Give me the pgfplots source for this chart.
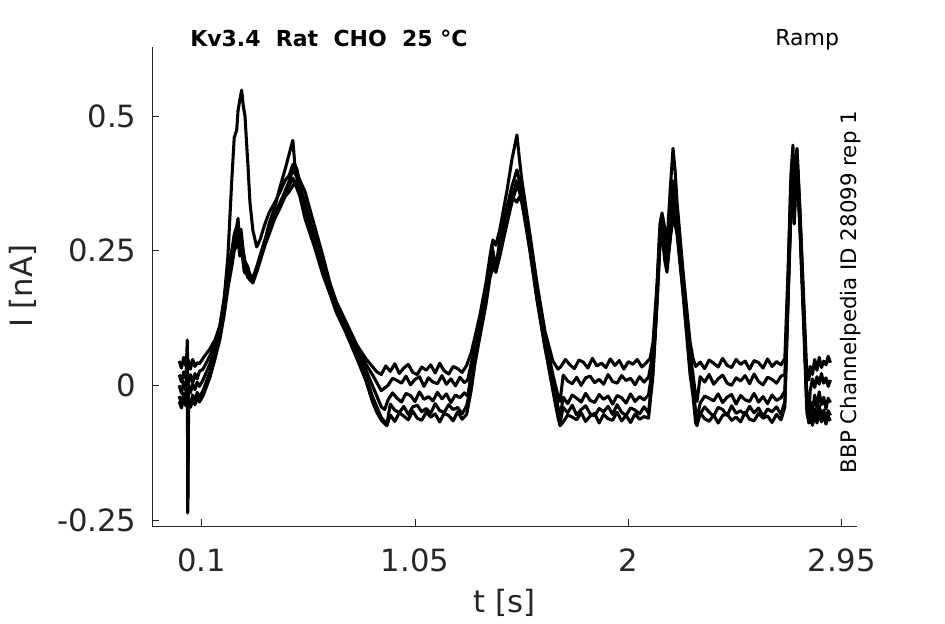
\documentclass[border=0pt]{standalone}
\usepackage{fontspec}
\setmainfont{DejaVu Sans}
\usepackage{pgfplots}
\pgfplotsset{compat=1.18}
\definecolor{axgray}{RGB}{38,38,38}
\begin{document}
\begin{tikzpicture}[x=0.75pt,y=0.75pt]
\path[use as bounding box] (-152.3,-98) rectangle (792.7,526);
\begin{axis}[
  at={(0,0)}, anchor=south west,
  scale only axis, width=528.3pt, height=359.5pt,
  xmin=-0.1198, xmax=3.017, ymin=-0.2612, ymax=0.6288,
  clip=false,
  axis x line*=bottom, axis y line*=left,
  axis line style={axgray, line width=0.6pt},
  xtick={0.1,1.05,2,2.95}, xticklabels={0.1,1.05,2,2.95},
  ytick={-0.25,0,0.25,0.5}, yticklabels={-0.25,0,0.25,0.5},
  tick align=inside, major tick length=5.25pt,
  tick style={axgray, line width=0.6pt},
  every tick label/.append style={font=\fontsize{23}{27}\selectfont, text=axgray},
  xticklabel style={anchor=north, inner sep=0pt, yshift=-16.5pt},
  yticklabel style={anchor=east, inner sep=0pt, xshift=-11.7pt},
  xlabel={t [s]}, ylabel={I [nA]},
  every axis label/.append style={font=\fontsize{23}{27}\selectfont, text=axgray},
  xlabel style={at={(axis description cs:0.5,-0.1608)}, anchor=center, inner sep=0pt},
  ylabel style={at={(axis description cs:-0.1843,0.5)}, anchor=center, inner sep=0pt},
  trace/.style={black, line width=2.3pt, line join=round},
]
% trace 1
\addplot[trace] coordinates {
(0.000,0.045)(0.010,0.032)(0.020,0.052)(0.030,0.036)(0.040,0.047)(0.050,0.030)(0.060,0.048)(0.070,0.035)(0.080,0.042)(0.090,0.040)(0.106,0.050)(0.137,0.068)(0.160,0.085)(0.181,0.110)(0.200,0.160)(0.217,0.240)(0.234,0.380)(0.245,0.460)(0.256,0.474)(0.262,0.510)(0.270,0.530)(0.278,0.548)(0.285,0.520)(0.293,0.500)(0.300,0.450)(0.306,0.410)(0.315,0.340)(0.328,0.288)(0.345,0.257)(0.360,0.270)(0.382,0.300)(0.400,0.320)(0.426,0.340)(0.450,0.360)(0.471,0.380)(0.490,0.390)(0.506,0.410)(0.520,0.400)(0.538,0.380)(0.560,0.360)(0.600,0.300)(0.640,0.240)(0.671,0.190)(0.700,0.155)(0.740,0.120)(0.791,0.075)(0.830,0.050)(0.860,0.035)(0.880,0.025)(0.900,0.020)
(0.92,0.036)(0.94,0.026)(0.96,0.040)(0.98,0.022)(1.00,0.032)(1.02,0.039)(1.04,0.024)(1.06,0.020)(1.08,0.034)(1.10,0.028)(1.12,0.038)(1.14,0.023)(1.16,0.041)(1.18,0.027)(1.20,0.021)(1.22,0.035)(1.24,0.031)(1.26,0.024)(1.28,0.037)
(1.300,0.060)(1.317,0.090)(1.339,0.130)(1.366,0.190)(1.384,0.240)(1.397,0.270)(1.410,0.260)(1.428,0.290)(1.459,0.360)(1.482,0.420)(1.504,0.465)(1.515,0.420)(1.526,0.380)(1.562,0.280)(1.593,0.190)(1.629,0.100)(1.664,0.045)(1.687,0.030)
(1.70,0.035)(1.72,0.048)(1.74,0.038)(1.76,0.031)(1.78,0.047)(1.80,0.043)(1.82,0.032)(1.84,0.050)(1.86,0.036)(1.88,0.041)(1.90,0.033)(1.92,0.049)(1.94,0.037)(1.96,0.046)(1.98,0.030)(2.00,0.044)(2.02,0.039)(2.04,0.048)(2.06,0.034)(2.08,0.042)(2.097,0.050)
(2.110,0.080)(2.128,0.190)(2.141,0.300)(2.150,0.320)(2.163,0.290)(2.172,0.260)(2.186,0.360)(2.199,0.440)(2.208,0.400)(2.217,0.340)(2.244,0.210)(2.275,0.080)(2.288,0.050)(2.300,0.035)
(2.32,0.043)(2.34,0.031)(2.36,0.047)(2.38,0.041)(2.40,0.034)(2.42,0.050)(2.44,0.037)(2.46,0.033)(2.48,0.048)(2.50,0.039)(2.52,0.045)(2.54,0.030)(2.56,0.046)(2.58,0.042)(2.60,0.032)(2.62,0.049)(2.64,0.035)(2.66,0.044)(2.68,0.038)(2.697,0.050)
(2.711,0.210)(2.724,0.390)(2.733,0.446)(2.739,0.300)(2.745,0.400)(2.751,0.437)(2.764,0.330)(2.782,0.150)(2.795,0.020)(2.804,0.010)
(2.81,0.035)(2.82,0.020)(2.83,0.048)(2.84,0.028)(2.85,0.052)(2.86,0.033)(2.87,0.045)(2.88,0.038)(2.89,0.054)(2.90,0.042)
};
% trace 2
\addplot[trace] coordinates {
(0.000,0.020)(0.010,0.006)(0.020,0.025)(0.030,0.012)(0.036,0.084)(0.038,-0.237)(0.041,0.005)(0.050,0.020)(0.060,0.004)(0.070,0.022)(0.080,0.012)(0.090,0.026)(0.106,0.030)(0.137,0.055)(0.160,0.080)(0.181,0.110)(0.200,0.160)(0.217,0.210)(0.234,0.250)(0.245,0.280)(0.256,0.295)(0.262,0.310)(0.268,0.270)(0.275,0.290)(0.285,0.250)(0.293,0.230)(0.306,0.220)(0.318,0.200)(0.328,0.195)(0.340,0.210)(0.360,0.240)(0.382,0.270)(0.400,0.300)(0.426,0.330)(0.450,0.370)(0.471,0.400)(0.490,0.430)(0.506,0.455)(0.515,0.410)(0.525,0.400)(0.538,0.370)(0.560,0.340)(0.600,0.280)(0.640,0.225)(0.671,0.185)(0.700,0.150)(0.740,0.115)(0.791,0.070)(0.830,0.040)(0.860,0.020)(0.880,0.005)(0.900,-0.010)(0.915,-0.005)
(0.93,0.000)(0.95,0.013)(0.97,0.009)(0.99,0.004)(1.01,0.017)(1.03,0.001)(1.05,0.011)(1.07,0.016)(1.09,-0.002)(1.11,0.014)(1.13,0.006)(1.15,0.003)(1.17,0.018)(1.19,0.002)(1.21,0.012)(1.23,-0.001)(1.25,0.015)(1.27,0.005)(1.285,0.010)
(1.300,0.040)(1.317,0.070)(1.339,0.120)(1.366,0.180)(1.384,0.230)(1.392,0.260)(1.400,0.240)(1.410,0.220)(1.428,0.270)(1.459,0.330)(1.482,0.370)(1.504,0.400)(1.515,0.380)(1.526,0.360)(1.562,0.270)(1.593,0.180)(1.629,0.090)(1.664,0.020)(1.687,-0.020)(1.696,-0.030)
(1.71,0.019)(1.73,0.008)(1.75,0.003)(1.77,0.015)(1.79,0.000)(1.81,0.014)(1.83,0.017)(1.85,0.005)(1.87,0.011)(1.89,0.002)(1.91,0.020)(1.93,0.007)(1.95,0.004)(1.97,0.018)(1.99,0.009)(2.01,0.013)(2.03,0.001)(2.05,0.016)(2.07,0.006)(2.09,0.015)
(2.110,0.060)(2.128,0.180)(2.141,0.290)(2.150,0.310)(2.163,0.260)(2.172,0.230)(2.186,0.300)(2.199,0.380)(2.208,0.360)(2.217,0.320)(2.244,0.200)(2.275,0.060)(2.288,0.020)(2.300,-0.020)(2.306,-0.030)
(2.32,0.016)(2.34,0.006)(2.36,0.020)(2.38,0.002)(2.40,0.012)(2.42,0.019)(2.44,0.004)(2.46,0.000)(2.48,0.014)(2.50,0.008)(2.52,0.018)(2.54,0.003)(2.56,0.021)(2.58,0.007)(2.60,0.001)(2.62,0.015)(2.64,0.011)(2.66,0.004)(2.68,0.017)(2.697,0.020)
(2.711,0.190)(2.724,0.370)(2.733,0.430)(2.739,0.320)(2.745,0.390)(2.751,0.420)(2.764,0.310)(2.782,0.130)(2.795,-0.020)(2.804,-0.050)
(2.81,-0.010)(2.82,0.012)(2.83,-0.004)(2.84,0.016)(2.85,0.002)(2.86,0.022)(2.87,0.004)(2.88,0.014)(2.89,-0.002)(2.90,0.010)
};
% trace 3
\addplot[trace] coordinates {
(0.000,0.000)(0.010,-0.015)(0.020,0.007)(0.030,-0.010)(0.040,0.004)(0.050,-0.014)(0.060,0.002)(0.070,-0.008)(0.080,0.006)(0.090,-0.002)(0.106,0.010)(0.137,0.040)(0.160,0.070)(0.181,0.100)(0.200,0.150)(0.217,0.200)(0.234,0.240)(0.245,0.270)(0.256,0.280)(0.262,0.290)(0.270,0.260)(0.278,0.270)(0.290,0.230)(0.306,0.210)(0.328,0.200)(0.345,0.220)(0.360,0.240)(0.382,0.270)(0.400,0.290)(0.426,0.320)(0.450,0.340)(0.471,0.360)(0.490,0.380)(0.506,0.400)(0.520,0.390)(0.538,0.370)(0.560,0.330)(0.600,0.270)(0.640,0.215)(0.671,0.180)(0.700,0.145)(0.740,0.110)(0.791,0.060)(0.830,0.030)(0.860,0.000)(0.880,-0.020)(0.900,-0.040)(0.915,-0.045)
(0.93,-0.027)(0.95,-0.014)(0.97,-0.024)(0.99,-0.031)(1.01,-0.015)(1.03,-0.019)(1.05,-0.030)(1.07,-0.012)(1.09,-0.026)(1.11,-0.021)(1.13,-0.029)(1.15,-0.013)(1.17,-0.025)(1.19,-0.016)(1.21,-0.032)(1.23,-0.018)(1.25,-0.023)(1.27,-0.014)(1.285,-0.020)
(1.300,0.020)(1.317,0.060)(1.339,0.110)(1.366,0.170)(1.384,0.220)(1.397,0.250)(1.410,0.210)(1.428,0.260)(1.459,0.310)(1.482,0.350)(1.504,0.340)(1.515,0.350)(1.526,0.340)(1.562,0.260)(1.593,0.170)(1.629,0.080)(1.664,0.010)(1.687,-0.040)(1.696,-0.060)
(1.71,-0.022)(1.73,-0.034)(1.75,-0.018)(1.77,-0.024)(1.79,-0.031)(1.81,-0.015)(1.83,-0.028)(1.85,-0.032)(1.87,-0.017)(1.89,-0.026)(1.91,-0.020)(1.93,-0.035)(1.95,-0.019)(1.97,-0.023)(1.99,-0.033)(2.01,-0.016)(2.03,-0.030)(2.05,-0.021)(2.07,-0.027)(2.09,-0.018)
(2.110,0.040)(2.128,0.170)(2.141,0.280)(2.150,0.300)(2.163,0.250)(2.172,0.220)(2.186,0.280)(2.199,0.330)(2.208,0.310)(2.217,0.290)(2.244,0.180)(2.275,0.040)(2.288,0.000)(2.300,-0.050)(2.306,-0.060)
(2.32,-0.033)(2.34,-0.020)(2.36,-0.024)(2.38,-0.029)(2.40,-0.016)(2.42,-0.032)(2.44,-0.022)(2.46,-0.017)(2.48,-0.035)(2.50,-0.019)(2.52,-0.027)(2.54,-0.030)(2.56,-0.015)(2.58,-0.031)(2.60,-0.021)(2.62,-0.034)(2.64,-0.018)(2.66,-0.028)(2.68,-0.023)(2.697,-0.010)
(2.711,0.170)(2.724,0.340)(2.733,0.420)(2.739,0.360)(2.745,0.410)(2.751,0.440)(2.764,0.320)(2.782,0.120)(2.795,-0.030)(2.804,-0.060)
(2.81,-0.030)(2.82,-0.048)(2.83,-0.018)(2.84,-0.042)(2.85,-0.012)(2.86,-0.036)(2.87,-0.022)(2.88,-0.044)(2.89,-0.024)(2.90,-0.032)
};
% trace 4
\addplot[trace] coordinates {
(0.000,-0.020)(0.010,-0.034)(0.020,-0.015)(0.030,-0.030)(0.037,0.060)(0.039,-0.210)(0.042,-0.025)(0.050,-0.036)(0.060,-0.018)(0.070,-0.031)(0.080,-0.013)(0.090,-0.022)(0.106,-0.010)(0.137,0.025)(0.160,0.060)(0.181,0.090)(0.200,0.140)(0.217,0.190)(0.234,0.230)(0.245,0.260)(0.256,0.270)(0.262,0.280)(0.270,0.250)(0.278,0.260)(0.290,0.220)(0.306,0.200)(0.328,0.190)(0.345,0.210)(0.360,0.230)(0.382,0.260)(0.400,0.280)(0.426,0.310)(0.450,0.330)(0.471,0.350)(0.490,0.360)(0.506,0.370)(0.520,0.380)(0.538,0.360)(0.560,0.320)(0.600,0.265)(0.640,0.210)(0.671,0.175)(0.700,0.140)(0.740,0.105)(0.791,0.055)(0.830,0.020)(0.860,-0.020)(0.880,-0.040)(0.900,-0.060)(0.925,-0.072)
(0.94,-0.035)(0.96,-0.046)(0.98,-0.051)(1.00,-0.039)(1.02,-0.054)(1.04,-0.040)(1.06,-0.037)(1.08,-0.049)(1.10,-0.043)(1.12,-0.052)(1.14,-0.034)(1.16,-0.047)(1.18,-0.050)(1.20,-0.036)(1.22,-0.045)(1.24,-0.041)(1.26,-0.053)(1.28,-0.038)
(1.300,0.000)(1.317,0.050)(1.339,0.100)(1.366,0.160)(1.384,0.210)(1.397,0.230)(1.410,0.220)(1.428,0.250)(1.459,0.300)(1.482,0.340)(1.504,0.370)(1.515,0.360)(1.526,0.340)(1.562,0.250)(1.593,0.160)(1.629,0.070)(1.664,0.000)(1.687,-0.050)(1.696,-0.070)
(1.71,-0.041)(1.73,-0.051)(1.75,-0.037)(1.77,-0.055)(1.79,-0.045)(1.81,-0.038)(1.83,-0.053)(1.85,-0.057)(1.87,-0.043)(1.89,-0.049)(1.91,-0.039)(1.93,-0.054)(1.95,-0.036)(1.97,-0.050)(1.99,-0.056)(2.01,-0.042)(2.03,-0.046)(2.05,-0.053)(2.07,-0.040)(2.09,-0.051)
(2.110,0.030)(2.128,0.160)(2.141,0.270)(2.150,0.290)(2.163,0.240)(2.172,0.220)(2.186,0.270)(2.199,0.310)(2.208,0.300)(2.217,0.280)(2.244,0.170)(2.275,0.030)(2.288,-0.010)(2.300,-0.060)(2.306,-0.070)
(2.32,-0.053)(2.34,-0.040)(2.36,-0.050)(2.38,-0.057)(2.40,-0.041)(2.42,-0.045)(2.44,-0.056)(2.46,-0.038)(2.48,-0.052)(2.50,-0.047)(2.52,-0.055)(2.54,-0.039)(2.56,-0.051)(2.58,-0.042)(2.60,-0.058)(2.62,-0.044)(2.64,-0.049)(2.66,-0.040)(2.68,-0.054)(2.697,-0.030)
(2.711,0.160)(2.724,0.330)(2.733,0.400)(2.739,0.300)(2.745,0.380)(2.751,0.410)(2.764,0.300)(2.782,0.110)(2.795,-0.040)(2.804,-0.065)
(2.81,-0.050)(2.82,-0.066)(2.83,-0.044)(2.84,-0.060)(2.85,-0.038)(2.86,-0.058)(2.87,-0.046)(2.88,-0.064)(2.89,-0.047)(2.90,-0.056)
};
% trace 5
\addplot[trace] coordinates {
(0.000,-0.030)(0.010,-0.042)(0.020,-0.025)(0.030,-0.038)(0.040,-0.028)(0.050,-0.041)(0.060,-0.027)(0.070,-0.036)(0.080,-0.024)(0.090,-0.031)(0.106,-0.020)(0.137,0.015)(0.160,0.050)(0.181,0.085)(0.200,0.130)(0.217,0.180)(0.234,0.220)(0.245,0.250)(0.256,0.260)(0.262,0.270)(0.270,0.240)(0.278,0.250)(0.290,0.210)(0.306,0.205)(0.328,0.200)(0.345,0.215)(0.360,0.235)(0.382,0.265)(0.400,0.285)(0.426,0.315)(0.450,0.335)(0.471,0.355)(0.490,0.370)(0.506,0.385)(0.520,0.370)(0.538,0.350)(0.560,0.310)(0.600,0.260)(0.640,0.205)(0.671,0.170)(0.700,0.135)(0.740,0.100)(0.791,0.050)(0.830,0.010)(0.860,-0.030)(0.880,-0.050)(0.900,-0.065)(0.925,-0.075)
(0.94,-0.055)(0.96,-0.067)(0.98,-0.051)(1.00,-0.057)(1.02,-0.064)(1.04,-0.048)(1.06,-0.061)(1.08,-0.065)(1.10,-0.050)(1.12,-0.059)(1.14,-0.053)(1.16,-0.068)(1.18,-0.052)(1.20,-0.056)(1.22,-0.066)(1.24,-0.049)(1.26,-0.063)(1.28,-0.054)
(1.300,-0.010)(1.317,0.040)(1.339,0.090)(1.366,0.150)(1.384,0.200)(1.397,0.220)(1.410,0.210)(1.428,0.240)(1.459,0.300)(1.482,0.350)(1.504,0.380)(1.515,0.370)(1.526,0.350)(1.562,0.250)(1.593,0.160)(1.629,0.070)(1.664,-0.010)(1.687,-0.060)(1.696,-0.075)
(1.71,-0.068)(1.73,-0.055)(1.75,-0.059)(1.77,-0.064)(1.79,-0.051)(1.81,-0.067)(1.83,-0.057)(1.85,-0.052)(1.87,-0.070)(1.89,-0.054)(1.91,-0.062)(1.93,-0.065)(1.95,-0.050)(1.97,-0.066)(1.99,-0.056)(2.01,-0.069)(2.03,-0.053)(2.05,-0.063)(2.07,-0.058)(2.09,-0.061)
(2.110,0.020)(2.128,0.150)(2.141,0.260)(2.150,0.280)(2.163,0.230)(2.172,0.210)(2.186,0.270)(2.199,0.350)(2.208,0.330)(2.217,0.290)(2.244,0.170)(2.275,0.020)(2.288,-0.020)(2.300,-0.070)(2.306,-0.075)
(2.32,-0.051)(2.34,-0.062)(2.36,-0.067)(2.38,-0.055)(2.40,-0.070)(2.42,-0.056)(2.44,-0.053)(2.46,-0.065)(2.48,-0.059)(2.50,-0.068)(2.52,-0.050)(2.54,-0.063)(2.56,-0.066)(2.58,-0.052)(2.60,-0.061)(2.62,-0.057)(2.64,-0.069)(2.66,-0.054)(2.68,-0.064)(2.697,-0.040)
(2.711,0.150)(2.724,0.320)(2.733,0.390)(2.739,0.310)(2.745,0.370)(2.751,0.400)(2.764,0.290)(2.782,0.100)(2.795,-0.050)(2.804,-0.070)
(2.81,-0.060)(2.82,-0.074)(2.83,-0.055)(2.84,-0.070)(2.85,-0.050)(2.86,-0.068)(2.87,-0.056)(2.88,-0.072)(2.89,-0.058)(2.90,-0.066)
};
\node[anchor=base west, inner sep=0pt, font=\fontsize{16.5}{19}\selectfont\bfseries] at (axis description cs:0.0535,1.0) {Kv3.4\ \ Rat\ \ CHO\ \ 25 °C};
\node[anchor=base east, inner sep=0pt, font=\fontsize{16.5}{19}\selectfont] at (axis description cs:0.9753,1.002) {Ramp};
\node[rotate=90, anchor=base west, inner sep=0pt, font=\fontsize{16}{19}\selectfont] at (axis description cs:1.0,0.11) {BBP Channelpedia ID 28099 rep 1};
\end{axis}
\end{tikzpicture}
\end{document}
